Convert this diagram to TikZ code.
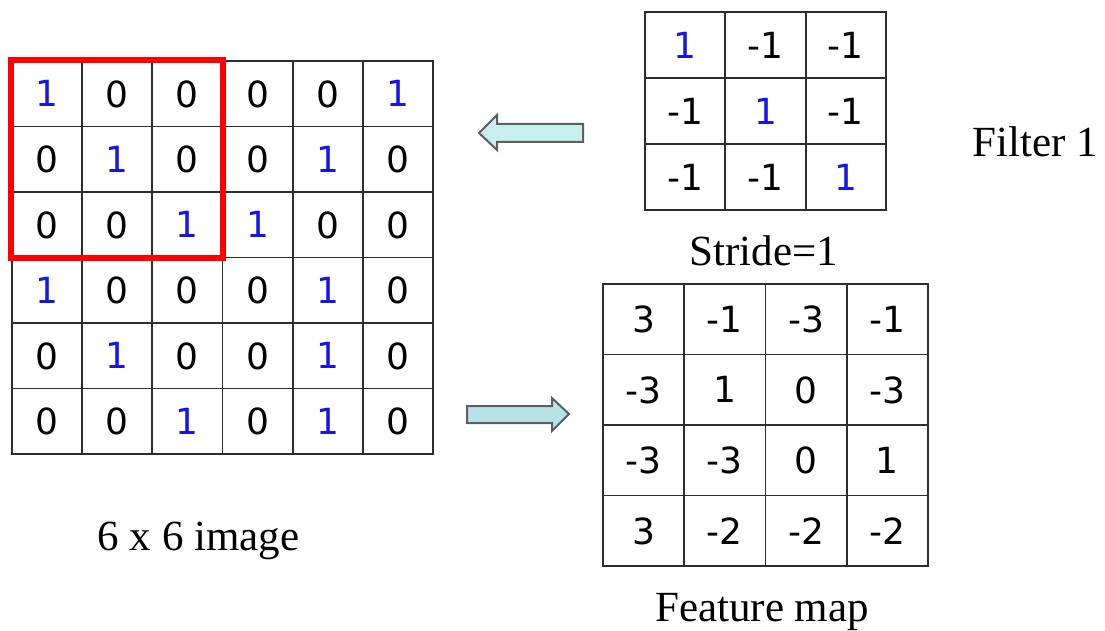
\documentclass[tikz,border=0pt]{standalone}
\usepackage{fontspec}
\setmainfont{Liberation Serif}
\newfontfamily\numfont{DejaVu Sans}
\definecolor{numblue}{RGB}{20,20,235}
\definecolor{gridline}{RGB}{45,45,45}
\definecolor{arrowfillA}{RGB}{200,238,240}
\definecolor{arrowfillB}{RGB}{185,226,230}
\definecolor{arrowedge}{RGB}{90,95,95}
\begin{document}
\begin{tikzpicture}[x=1pt,y=-1pt,
  cell/.style={draw=gridline, line width=1.8pt, inner sep=0pt,
    font=\numfont\fontsize{36}{36}\selectfont, text depth=0pt},
  lab/.style={font=\fontsize{43}{43}\selectfont, inner sep=0pt, anchor=base},
  blockarrow/.style={draw=arrowedge, line width=2pt, line join=miter}]
\useasboundingbox (0,0) rectangle (1105,631);

% 6 x 6 image
\foreach \row [count=\r] in {{1,0,0,0,0,1},{0,1,0,0,1,0},{0,0,1,1,0,0},{1,0,0,0,1,0},{0,1,0,0,1,0},{0,0,1,0,1,0}}{
  \foreach \v [count=\c] in \row {
    \ifnum\v=1 \def\col{numblue}\else\def\col{black}\fi
    \node[cell, minimum width=70.17pt, minimum height=65.5pt, text=\col]
      (img-\r-\c) at ({12+(\c-0.5)*70.17},{61+(\r-0.5)*65.5}) {\v};
  }
}
\draw[red, line width=6pt] (img-1-1.north west) rectangle (img-3-3.south east);

% filter
\foreach \row [count=\r] in {{1,-1,-1},{-1,1,-1},{-1,-1,1}}{
  \foreach \v [count=\c] in \row {
    \ifnum\v=1 \def\col{numblue}\else\def\col{black}\fi
    \node[cell, minimum width=80.33pt, minimum height=66pt, text=\col]
      (flt-\r-\c) at ({645+(\c-0.5)*80.33},{12+(\r-0.5)*66}) {\v};
  }
}

% feature map
\foreach \row [count=\r] in {{3,-1,-3,-1},{-3,1,0,-3},{-3,-3,0,1},{3,-2,-2,-2}}{
  \foreach \v [count=\c] in \row {
    \node[cell, minimum width=81.25pt, minimum height=70.5pt]
      (fm-\r-\c) at ({603+(\c-0.5)*81.25},{284+(\r-0.5)*70.5}) {\v};
  }
}

% labels
\node[lab] (filterlab) at (1035,157) {Filter 1};
\node[lab] (stridelab) at (764,265) {Stride=1};
\node[lab] (imglab) at (198.5,550) {6 x 6 image};
\node[lab] (fmlab) at (762,621) {Feature map};

% block arrows
\draw[blockarrow, fill=arrowfillA]
  (583,124) -- (497,124) -- (497,115) -- (479,133) -- (497,150) -- (497,142) -- (583,142) -- cycle;
\draw[blockarrow, fill=arrowfillB]
  (467,406) -- (552,406) -- (552,398) -- (569,414) -- (552,431) -- (552,423) -- (467,423) -- cycle;
\end{tikzpicture}
\end{document}
